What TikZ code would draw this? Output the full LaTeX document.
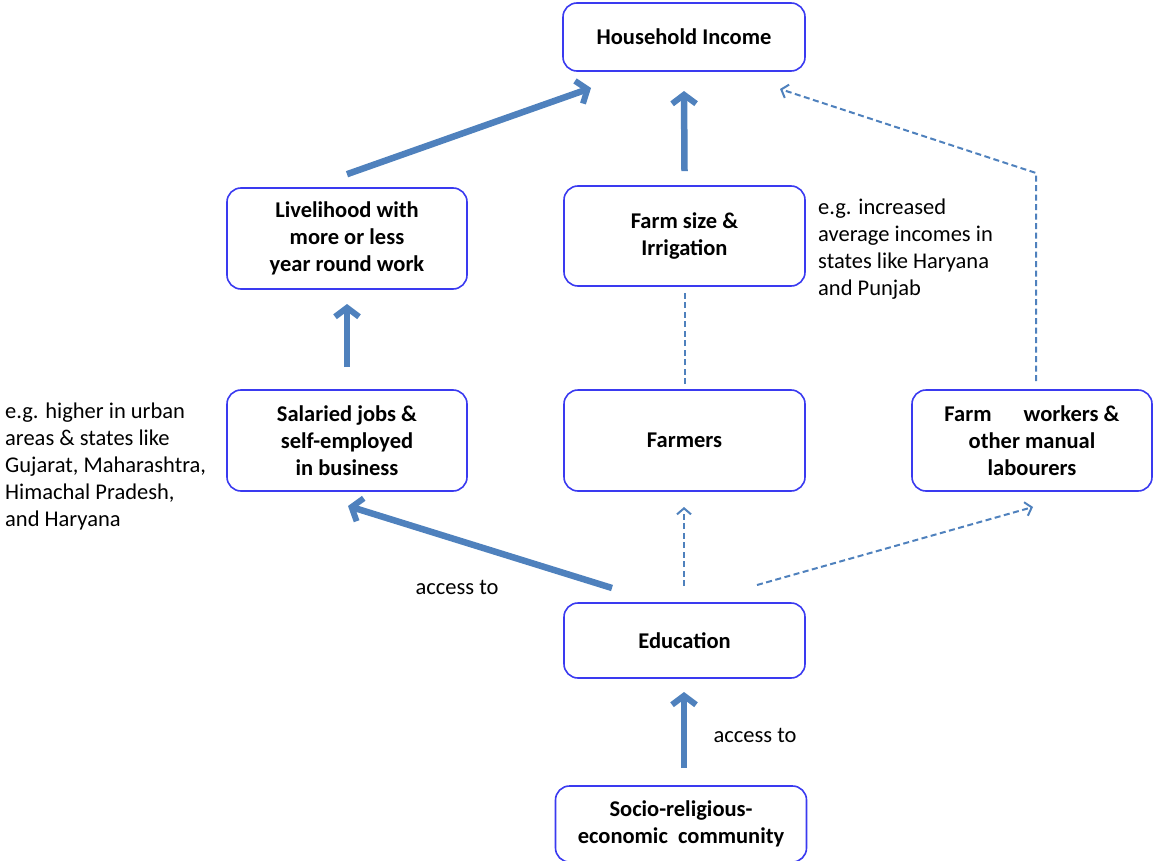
\documentclass[tikz,border=0pt]{standalone}
\usepackage{fontspec}
\setmainfont{Carlito}
\usetikzlibrary{arrows.meta}
\definecolor{boxblue}{HTML}{3A3AF0}
\definecolor{arrowblue}{HTML}{4F81BD}
\tikzset{
  box/.style={draw=boxblue, line width=1.6pt, rounded corners=14pt, fill=white,
    align=center, font=\fontsize{22.5}{27}\selectfont\bfseries, inner sep=0pt},
  note/.style={align=left, anchor=north west, font=\fontsize{22.5}{27}\selectfont, inner sep=0pt},
  thick arrow/.style={draw=arrowblue, line width=6.5pt,
    -{Straight Barb[length=9pt,width=24pt,line width=6pt]}},
  dash arrow/.style={draw=arrowblue, line width=2pt, dash pattern=on 6pt off 3.5pt,
    -{Straight Barb[length=6pt,width=14pt,line width=2pt]}},
  dash line/.style={draw=arrowblue, line width=2pt, dash pattern=on 6pt off 3.5pt},
}
\begin{document}
\begin{tikzpicture}[x=1pt,y=-1pt]
\useasboundingbox (0,0) rectangle (1153,861);

% boxes
\node[box, minimum width=242pt, minimum height=68pt] (inc) at (684,37) {Household Income};
\node[box, minimum width=240pt, minimum height=101pt] (live) at (347,238.5) {\raisebox{-3pt}{\parbox{200pt}{\centering Livelihood with\\more or less\\year round work}}};
\node[box, minimum width=241pt, minimum height=100pt] (farm) at (684.5,236) {\raisebox{-3pt}{\parbox{200pt}{\centering Farm size \&\\Irrigation}}};
\node[box, minimum width=240pt, minimum height=101pt] (sal) at (347,440.5) {Salaried jobs \&\\self-employed\\in business};
\node[box, minimum width=241pt, minimum height=101pt] (farmers) at (684.5,440.5) {Farmers};
\node[box, minimum width=240pt, minimum height=101pt] (work) at (1032,440.5) {Farm\hspace{1.2em} workers \&\\other manual\\labourers};
\node[box, minimum width=241pt, minimum height=75pt] (edu) at (684.5,640.5) {Education};
\node[box, minimum width=251pt, minimum height=76pt] (soc) at (681,824) {Socio-religious-\\economic\ \ community};

% notes
\node[note] (n1) at (818,199) {e.g. increased\\average incomes in\\states like Haryana\\and Punjab};
\node[note] (n2) at (5,403) {e.g. higher in urban\\areas \& states like\\Gujarat, Maharashtra,\\Himachal Pradesh,\\and Haryana};
\node[font=\fontsize{22.5}{24}\selectfont, inner sep=0pt] (a1) at (457,587) {access to};
\node[font=\fontsize{22.5}{24}\selectfont, inner sep=0pt] (a2) at (755,735) {access to};

% connector end points (yshift is measured upwards on the page)
\coordinate (liveTop) at ([yshift=13pt]live.north);
\coordinate (incL) at (591,88);
\coordinate (farmTop) at ([yshift=14pt]farm.north);
\coordinate (incB) at (684,91);
\coordinate (salTop) at ([yshift=22pt]sal.north);
\coordinate (liveB) at (347,304);
\coordinate (eduL) at (612,588);
\coordinate (salB) at (348,506);
\coordinate (socTop) at ([yshift=17pt]soc.north);
\coordinate (eduB) at (684,692);
\coordinate (farmersTop) at ([yshift=5pt]farmers.north);
\coordinate (farmB) at ([yshift=-4pt]farm.south);
\coordinate (eduM) at (684,586);
\coordinate (farmersB) at (684,507);
\coordinate (eduR) at (757,585);
\coordinate (workB) at (1033,507);
\coordinate (workTop) at ([xshift=4pt,yshift=8pt]work.north);
\coordinate (bend) at (1036,173);
\coordinate (incR) at (780,89);

% solid arrows
\draw[thick arrow] (liveTop) -- (incL);
\draw[thick arrow] (farmTop) -- (incB);
\draw[thick arrow] (salTop) -- (liveB);
\draw[thick arrow] (eduL) -- (salB);
\draw[thick arrow] (socTop -| eduB) -- (eduB);

% dashed links
\draw[dash line] (farmersTop) -- (farmB);
\draw[dash arrow] (eduM) -- (farmersB);
\draw[dash arrow] (eduR) -- (workB);
\draw[dash arrow] (workTop) -- (bend) -- (incR);
\end{tikzpicture}
\end{document}
